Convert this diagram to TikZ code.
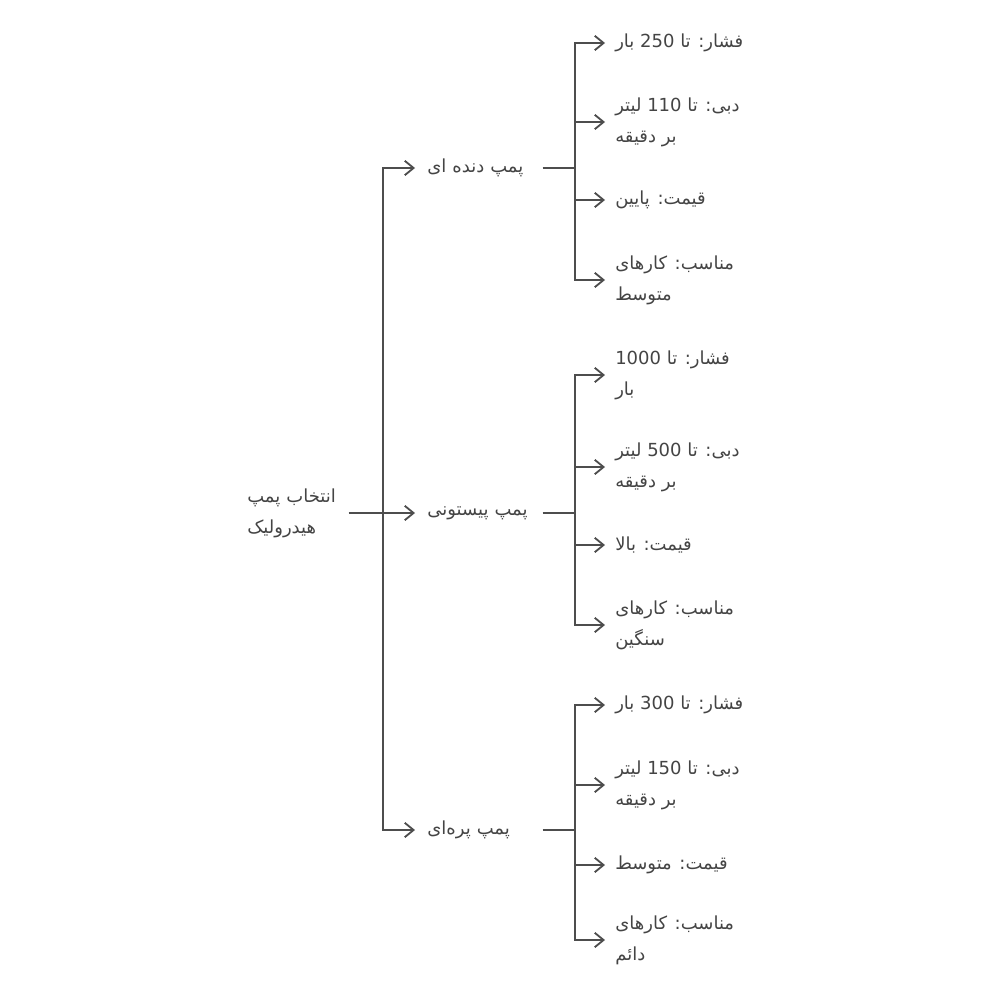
\documentclass[tikz,border=0pt]{standalone}
\usepackage{fontspec}
\setmainfont{DejaVu Sans}
\newfontfamily\arabicfont[Script=Arabic]{DejaVu Sans}
\TeXXeTstate=1
\usetikzlibrary{arrows.meta}
\definecolor{linegray}{HTML}{4D4D4D}
\definecolor{textgray}{HTML}{444444}

\begin{document}
\begin{tikzpicture}[x=0.025cm, y=-0.025cm,
    every node/.style={font=\arabicfont\fontsize{12.8}{22}\selectfont, text=textgray, inner sep=0pt},
    link/.style={draw=linegray, line width=1.3pt},
    tip/.style={link, -{Straight Barb[length=2.2mm, width=3.6mm]}},
    rootnode/.style={anchor=west, align=left, text width=2.525cm},
    pumpnode/.style={anchor=west, align=left, inner xsep=0.3cm, text width=2.575cm},
    leafnode/.style={anchor=west, align=left, inner xsep=0.25cm}]
    \useasboundingbox (0,0) rectangle (1000,1000);

    % --- Root ---
    \node[rootnode] (root) at (247,513) {\beginR انتخاب پمپ\endR\\\beginR هیدرولیک\endR};
    \coordinate (j0) at (383,513);

    % --- Pumps ---
    \node[pumpnode] (gear) at (415,168) {\beginR پمپ دنده ای\endR};
    \node[pumpnode] (piston) at (415,513) {\beginR پمپ پیستونی\endR};
    \node[pumpnode] (vane) at (415,830) {\beginR پمپ پره‌ای\endR};

    \draw[link] (root.east) -- (j0);
    \draw[tip] (j0) |- (gear.west);
    \draw[tip] (j0) -- (piston.west);
    \draw[tip] (j0) |- (vane.west);

    % --- Gear pump ---
    \coordinate (g1) at (575,168);
    \node[leafnode] (g1a) at (605,43) {\beginR فشار: تا \beginL 250\endL{} بار\endR};
    \node[leafnode] (g1b) at (605,122) {\beginR دبی: تا \beginL 110\endL{} لیتر\endR\\\beginR بر دقیقه\endR};
    \node[leafnode] (g1c) at (605,200) {\beginR قیمت: پایین\endR};
    \node[leafnode] (g1d) at (605,280) {\beginR مناسب: کارهای\endR\\\beginR متوسط\endR};
    \draw[link] (gear.east) -- (g1);
    \draw[tip] (g1) |- (g1a.west);
    \draw[tip] (g1) |- (g1b.west);
    \draw[tip] (g1) |- (g1c.west);
    \draw[tip] (g1) |- (g1d.west);

    % --- Piston pump ---
    \coordinate (g2) at (575,513);
    \node[leafnode] (g2a) at (605,375) {\beginR فشار: تا \beginL 1000\endL\endR\\\beginR بار\endR};
    \node[leafnode] (g2b) at (605,467) {\beginR دبی: تا \beginL 500\endL{} لیتر\endR\\\beginR بر دقیقه\endR};
    \node[leafnode] (g2c) at (605,545) {\beginR قیمت: بالا\endR};
    \node[leafnode] (g2d) at (605,625) {\beginR مناسب: کارهای\endR\\\beginR سنگین\endR};
    \draw[link] (piston.east) -- (g2);
    \draw[tip] (g2) |- (g2a.west);
    \draw[tip] (g2) |- (g2b.west);
    \draw[tip] (g2) |- (g2c.west);
    \draw[tip] (g2) |- (g2d.west);

    % --- Vane pump ---
    \coordinate (g3) at (575,830);
    \node[leafnode] (g3a) at (605,705) {\beginR فشار: تا \beginL 300\endL{} بار\endR};
    \node[leafnode] (g3b) at (605,785) {\beginR دبی: تا \beginL 150\endL{} لیتر\endR\\\beginR بر دقیقه\endR};
    \node[leafnode] (g3c) at (605,865) {\beginR قیمت: متوسط\endR};
    \node[leafnode] (g3d) at (605,940) {\beginR مناسب: کارهای\endR\\\beginR دائم\endR};
    \draw[link] (vane.east) -- (g3);
    \draw[tip] (g3) |- (g3a.west);
    \draw[tip] (g3) |- (g3b.west);
    \draw[tip] (g3) |- (g3c.west);
    \draw[tip] (g3) |- (g3d.west);
\end{tikzpicture}
\end{document}
